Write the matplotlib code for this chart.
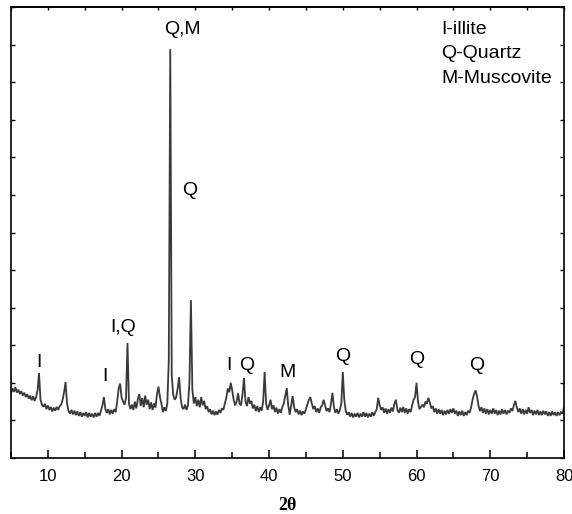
import numpy as np
import matplotlib
matplotlib.use("Agg")
import matplotlib.pyplot as plt
from matplotlib.ticker import MultipleLocator, NullFormatter

# ---- data (2-theta scan, 0.2 deg steps, 5..80) ----
two_theta = np.round(np.arange(5.0, 80.0001, 0.2), 1)
intensity = [
    1.72, 1.85, 1.76, 1.88, 1.74, 1.82, 1.70, 1.78, 1.66, 1.74,   # 5.0-6.8
    1.62, 1.70, 1.58, 1.66, 1.54, 1.64, 1.52, 1.62, 1.80, 2.26,   # 7.0-8.8
    1.55, 1.42, 1.36, 1.44, 1.30, 1.40, 1.28, 1.36, 1.24, 1.34,   # 9.0-10.8
    1.26, 1.36, 1.28, 1.38, 1.42, 1.55, 1.75, 2.02, 1.45, 1.25,   # 11.0-12.8
    1.18, 1.28, 1.16, 1.26, 1.14, 1.24, 1.12, 1.22, 1.10, 1.20,   # 13.0-14.8
    1.12, 1.22, 1.08, 1.20, 1.10, 1.18, 1.08, 1.20, 1.10, 1.20,   # 15.0-16.8
    1.12, 1.26, 1.40, 1.62, 1.30, 1.20, 1.30, 1.16, 1.28, 1.18,   # 17.0-18.8
    1.30, 1.22, 1.50, 1.85, 1.98, 1.60, 1.50, 1.42, 1.60, 3.06,   # 19.0-20.8
    1.45, 1.30, 1.42, 1.28, 1.50, 1.32, 1.56, 1.70, 1.38, 1.60,   # 21.0-22.8
    1.35, 1.66, 1.42, 1.55, 1.30, 1.48, 1.28, 1.45, 1.34, 1.70,   # 23.0-24.8
    1.90, 1.62, 1.45, 1.22, 1.35, 1.25, 1.45, 2.60, 10.88, 2.20,  # 25.0-26.8
    1.68, 1.55, 1.62, 1.85, 2.15, 1.60, 1.35, 1.30, 1.42, 1.28,   # 27.0-28.8
    1.40, 2.00, 4.20, 1.80, 1.45, 1.62, 1.38, 1.55, 1.35, 1.62,   # 29.0-30.8
    1.40, 1.52, 1.30, 1.38, 1.22, 1.30, 1.16, 1.26, 1.14, 1.24,   # 31.0-32.8
    1.15, 1.28, 1.20, 1.32, 1.28, 1.45, 1.60, 1.85, 1.75, 2.00,   # 33.0-34.8
    1.80, 1.55, 1.40, 1.50, 1.72, 1.45, 1.40, 1.70, 2.13, 1.50,   # 35.0-36.8
    1.38, 1.62, 1.45, 1.52, 1.32, 1.42, 1.25, 1.38, 1.22, 1.35,   # 37.0-38.8
    1.26, 1.50, 2.29, 1.45, 1.28, 1.40, 1.55, 1.30, 1.40, 1.22,   # 39.0-40.8
    1.34, 1.18, 1.30, 1.20, 1.36, 1.45, 1.65, 1.86, 1.40, 1.15,   # 41.0-42.8
    1.40, 1.65, 1.35, 1.22, 1.30, 1.16, 1.26, 1.14, 1.24, 1.18,   # 43.0-44.8
    1.30, 1.42, 1.55, 1.62, 1.45, 1.30, 1.38, 1.22, 1.32, 1.20,   # 45.0-46.8
    1.35, 1.40, 1.55, 1.40, 1.25, 1.32, 1.22, 1.45, 1.73, 1.35,   # 47.0-48.8
    1.20, 1.30, 1.18, 1.28, 1.45, 2.29, 1.55, 1.25, 1.15, 1.22,   # 49.0-50.8
    1.10, 1.20, 1.08, 1.18, 1.10, 1.20, 1.08, 1.18, 1.10, 1.22,   # 51.0-52.8
    1.10, 1.20, 1.08, 1.18, 1.10, 1.22, 1.12, 1.22, 1.30, 1.60,   # 53.0-54.8
    1.40, 1.28, 1.35, 1.20, 1.32, 1.18, 1.30, 1.20, 1.34, 1.24,   # 55.0-56.8
    1.45, 1.55, 1.28, 1.20, 1.34, 1.22, 1.36, 1.20, 1.32, 1.18,   # 57.0-58.8
    1.30, 1.22, 1.40, 1.55, 1.62, 2.00, 1.50, 1.30, 1.36, 1.42,   # 59.0-60.8
    1.35, 1.50, 1.45, 1.60, 1.48, 1.32, 1.38, 1.22, 1.32, 1.18,   # 61.0-62.8
    1.30, 1.18, 1.28, 1.14, 1.26, 1.16, 1.28, 1.18, 1.30, 1.20,   # 63.0-64.8
    1.32, 1.18, 1.26, 1.12, 1.24, 1.14, 1.26, 1.12, 1.22, 1.14,   # 65.0-66.8
    1.26, 1.20, 1.35, 1.55, 1.70, 1.80, 1.65, 1.40, 1.25, 1.35,   # 67.0-68.8
    1.20, 1.32, 1.18, 1.30, 1.16, 1.28, 1.18, 1.32, 1.18, 1.28,   # 69.0-70.8
    1.14, 1.26, 1.16, 1.30, 1.18, 1.28, 1.16, 1.26, 1.20, 1.32,   # 71.0-72.8
    1.25, 1.40, 1.52, 1.35, 1.22, 1.32, 1.18, 1.30, 1.16, 1.28,   # 73.0-74.8
    1.18, 1.35, 1.20, 1.28, 1.14, 1.26, 1.16, 1.28, 1.14, 1.24,   # 75.0-76.8
    1.14, 1.26, 1.16, 1.24, 1.12, 1.22, 1.12, 1.24, 1.14, 1.22,   # 77.0-78.8
    1.12, 1.22, 1.14, 1.22, 1.18, 1.35,                           # 79.0-80.0
]

# peak labels
peak_labels = ["I", "I", "I,Q", "Q,M", "Q", "I", "Q", "M", "Q", "Q", "Q"]
peak_x = [8.8, 17.8, 20.2, 28.2, 29.3, 34.6, 36.9, 42.5, 50.0, 60.0, 68.2]
peak_y = [2.55, 2.18, 3.46, 11.4, 7.13, 2.47, 2.47, 2.27, 2.69, 2.63, 2.45]

legend_lines = ["I-illite", "Q-Quartz", "M-Muscovite"]
legend_x = 63.4
legend_y = [11.41, 10.75, 10.11]

x_label = "2θ"

plt.rcParams['font.family'] = ['Liberation Sans', 'DejaVu Sans']

fig = plt.figure(figsize=(5.72, 5.14), dpi=100)
ax = fig.add_axes([11/572, 1 - 458/514, (564 - 11)/572, (458 - 7)/514])

ax.plot(two_theta, intensity, color='#3a3a3a', lw=1.3, solid_joinstyle='miter')

ax.set_xlim(5, 80)
ax.set_ylim(0, 12)

ax.xaxis.set_major_locator(MultipleLocator(10))
ax.xaxis.set_minor_locator(MultipleLocator(5))
ax.yaxis.set_major_locator(MultipleLocator(1))
ax.yaxis.set_major_formatter(NullFormatter())
ax.tick_params(axis='x', which='major', direction='in', length=6, width=1.1,
               labelsize=12, pad=8, top=False)
ax.tick_params(axis='x', which='minor', direction='in', length=4, width=1.1, top=False)
ax.tick_params(axis='y', which='major', direction='in', length=3, width=1.0,
               left=True, right=True)
sec = ax.secondary_xaxis('top')
sec.xaxis.set_major_locator(MultipleLocator(5))
sec.xaxis.set_major_formatter(NullFormatter())
sec.tick_params(direction='in', length=2.5, width=1.0)
sec.spines['top'].set_linewidth(1.2)

for s in ax.spines.values():
    s.set_linewidth(1.2)

for lab, xx, yy in zip(peak_labels, peak_x, peak_y):
    ax.text(xx, yy, lab, ha='center', va='center', fontsize=14)

for lab, yy in zip(legend_lines, legend_y):
    ax.text(legend_x, yy, lab, ha='left', va='center', fontsize=14)

fig.text(287/572, 1 - 506/514, x_label, ha='center', va='center', fontsize=13,
         fontweight='bold', family=['Liberation Serif', 'DejaVu Serif'])

fig.savefig("out.png", dpi=100)
